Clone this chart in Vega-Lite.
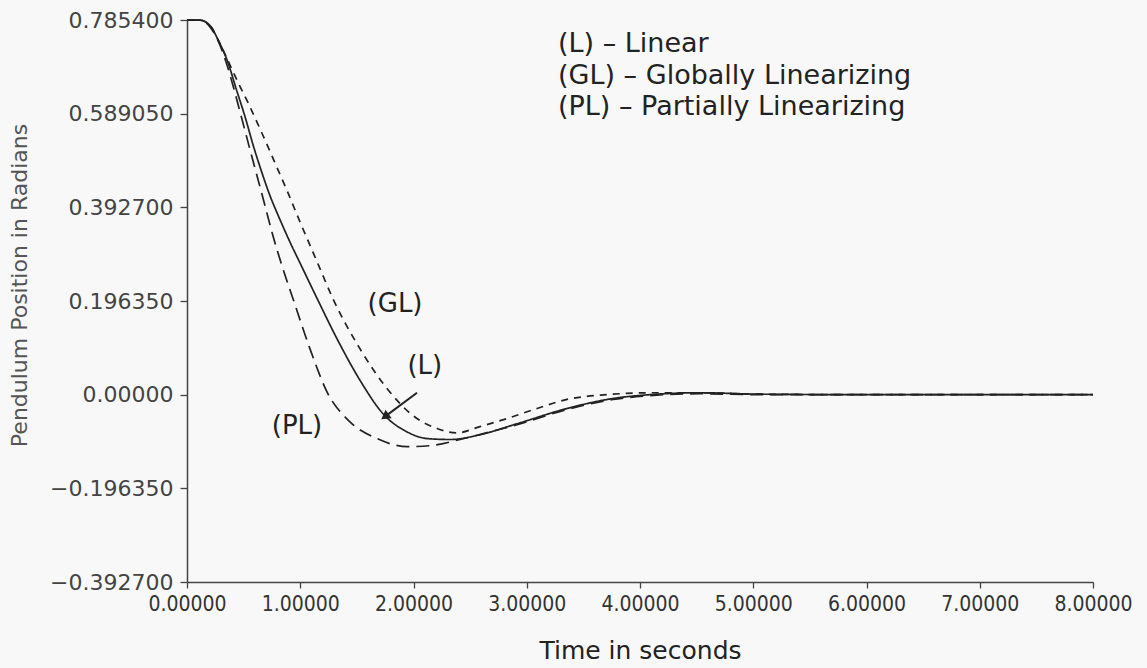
{
"$schema": "https://vega.github.io/schema/vega-lite/v6.json",
"width": 906, "height": 562,
"autosize": {"type": "none"},
"padding": {"left": 187, "top": 20, "right": 54, "bottom": 86},
"background": "#f8f8f8",
"config": {"view": {"stroke": null}, "font": "DejaVu Sans"},
"datasets": {
"curves": [
{"series":"L","t":0,"v":0.7854},{"series":"L","t":0.115,"v":0.785},{"series":"L","t":0.203,"v":0.774},{"series":"L","t":0.274,"v":0.744},{"series":"L","t":0.362,"v":0.696},{"series":"L","t":0.433,"v":0.642},{"series":"L","t":0.512,"v":0.583},{"series":"L","t":0.583,"v":0.524},{"series":"L","t":0.662,"v":0.465},{"series":"L","t":0.733,"v":0.417},{"series":"L","t":0.821,"v":0.367},{"series":"L","t":0.909,"v":0.320},{"series":"L","t":0.998,"v":0.276},{"series":"L","t":1.148,"v":0.202},{"series":"L","t":1.325,"v":0.117},{"series":"L","t":1.528,"v":0.030},{"series":"L","t":1.731,"v":-0.040},{"series":"L","t":1.943,"v":-0.078},{"series":"L","t":2.119,"v":-0.092},{"series":"L","t":2.322,"v":-0.094},{"series":"L","t":2.587,"v":-0.084},{"series":"L","t":2.914,"v":-0.061},{"series":"L","t":3.355,"v":-0.029},{"series":"L","t":3.762,"v":-0.008},{"series":"L","t":4.088,"v":0},{"series":"L","t":4.53,"v":0.004},{"series":"L","t":5.06,"v":0.001},{"series":"L","t":6,"v":0},{"series":"L","t":7,"v":0},{"series":"L","t":8,"v":0},
{"series":"PL","t":0,"v":0.7854},{"series":"PL","t":0.115,"v":0.785},{"series":"PL","t":0.203,"v":0.771},{"series":"PL","t":0.274,"v":0.742},{"series":"PL","t":0.344,"v":0.698},{"series":"PL","t":0.406,"v":0.648},{"series":"PL","t":0.477,"v":0.585},{"series":"PL","t":0.547,"v":0.522},{"series":"PL","t":0.618,"v":0.459},{"series":"PL","t":0.689,"v":0.396},{"series":"PL","t":0.759,"v":0.333},{"series":"PL","t":0.839,"v":0.270},{"series":"PL","t":0.936,"v":0.201},{"series":"PL","t":1.086,"v":0.096},{"series":"PL","t":1.236,"v":0.006},{"series":"PL","t":1.439,"v":-0.057},{"series":"PL","t":1.678,"v":-0.092},{"series":"PL","t":1.943,"v":-0.109},{"series":"PL","t":2.146,"v":-0.107},{"series":"PL","t":2.411,"v":-0.094},{"series":"PL","t":2.675,"v":-0.078},{"series":"PL","t":2.914,"v":-0.063},{"series":"PL","t":3.355,"v":-0.031},{"series":"PL","t":3.762,"v":-0.010},{"series":"PL","t":4.088,"v":-0.002},{"series":"PL","t":4.53,"v":0.002},{"series":"PL","t":5.06,"v":0},{"series":"PL","t":6,"v":0},{"series":"PL","t":7,"v":0},{"series":"PL","t":8,"v":0},
{"series":"GL","t":0,"v":0.7854},{"series":"GL","t":0.115,"v":0.785},{"series":"GL","t":0.203,"v":0.774},{"series":"GL","t":0.274,"v":0.744},{"series":"GL","t":0.362,"v":0.700},{"series":"GL","t":0.450,"v":0.655},{"series":"GL","t":0.539,"v":0.612},{"series":"GL","t":0.662,"v":0.548},{"series":"GL","t":0.733,"v":0.510},{"series":"GL","t":0.795,"v":0.476},{"series":"GL","t":0.883,"v":0.428},{"series":"GL","t":0.998,"v":0.362},{"series":"GL","t":1.148,"v":0.279},{"series":"GL","t":1.289,"v":0.201},{"series":"GL","t":1.528,"v":0.096},{"series":"GL","t":1.766,"v":0.013},{"series":"GL","t":1.996,"v":-0.044},{"series":"GL","t":2.208,"v":-0.071},{"series":"GL","t":2.384,"v":-0.080},{"series":"GL","t":2.587,"v":-0.067},{"series":"GL","t":2.826,"v":-0.050},{"series":"GL","t":3.091,"v":-0.029},{"series":"GL","t":3.355,"v":-0.010},{"series":"GL","t":3.709,"v":0},{"series":"GL","t":4.088,"v":0.004},{"series":"GL","t":4.53,"v":0.004},{"series":"GL","t":5.06,"v":0.001},{"series":"GL","t":6,"v":0},{"series":"GL","t":7,"v":0},{"series":"GL","t":8,"v":0}
],
"notes": [
{"text":"(GL)","t":1.837,"v":0.191},
{"text":"(L)","t":2.10,"v":0.061},
{"text":"(PL)","t":0.971,"v":-0.065}
],
"legend": [
{"text":"(L) – Linear","t":3.276,"v":0.736},
{"text":"(GL) – Globally Linearizing","t":3.276,"v":0.669},
{"text":"(PL) – Partially Linearizing","t":3.276,"v":0.604}
],
"arrow": [
{"t":2.031,"v":0.004,"t2":1.748,"v2":-0.046}
]
},
"encoding": {
"x": {"field":"t","type":"quantitative","scale":{"domain":[0,8],"nice":false,"zero":false},
 "axis":{"title":"Time in seconds","values":[0,1,2,3,4,5,6,7,8],"format":".5f","grid":false,
 "domainColor":"#444","domainWidth":1.5,"tickColor":"#444","tickWidth":1.3,"tickSize":6,
 "labelFont":"DejaVu Sans Condensed","labelFontSize":21,"labelColor":"#333","labelPadding":5,"labelBaseline":"top","labelFlush":false,
 "titleFont":"DejaVu Sans","titleFontSize":25,"titleFontWeight":"normal","titleColor":"#222","titleY":68,"titleBaseline":"middle"}},
"y": {"field":"v","type":"quantitative","scale":{"domain":[-0.3927,0.7854],"nice":false,"zero":false},
 "axis":{"title":"Pendulum Position in Radians","values":[-0.3927,-0.19635,0,0.19635,0.3927,0.58905,0.7854],
 "labelExpr":"datum.value == 0 ? '0.00000' : format(datum.value, '.6f')","grid":false,
 "domainColor":"#444","domainWidth":1.5,"tickColor":"#444","tickWidth":1.3,"tickSize":7,
 "labelFont":"DejaVu Sans","labelFontSize":22,"labelColor":"#444","labelPadding":7,"labelFlush":false,
 "titleFont":"DejaVu Sans","titleFontSize":22,"titleFontWeight":"normal","titleColor":"#555",
 "titleX":-168,"titleY":265,"titleAngle":270,"titleAlign":"center","titleBaseline":"middle"}}
},
"layer": [
{"data":{"name":"curves"},
 "mark":{"type":"line","strokeWidth":1.7,"color":"#222","interpolate":"monotone"},
 "encoding":{"strokeDash":{"field":"series","type":"nominal","scale":{"domain":["L","GL","PL"],"range":[[1,0],[7,6],[13,7]]},"legend":null}}},
{"data":{"name":"arrow"},
 "mark":{"type":"rule","strokeWidth":2,"color":"#222"},
 "encoding":{"x2":{"field":"t2"},"y2":{"field":"v2"}}},
{"data":{"name":"arrow"},
 "mark":{"type":"point","shape":"triangle-up","filled":true,"size":110,"angle":234,"color":"#222","opacity":1},
 "encoding":{"x":{"field":"t2","type":"quantitative"},"y":{"field":"v2","type":"quantitative"}}},
{"data":{"name":"notes"},
 "mark":{"type":"text","fontSize":26,"color":"#222","align":"center","baseline":"middle","font":"DejaVu Sans"},
 "encoding":{"text":{"field":"text"}}},
{"data":{"name":"legend"},
 "mark":{"type":"text","fontSize":27,"color":"#222","align":"left","baseline":"middle","font":"DejaVu Sans"},
 "encoding":{"text":{"field":"text"}}}
]
}
